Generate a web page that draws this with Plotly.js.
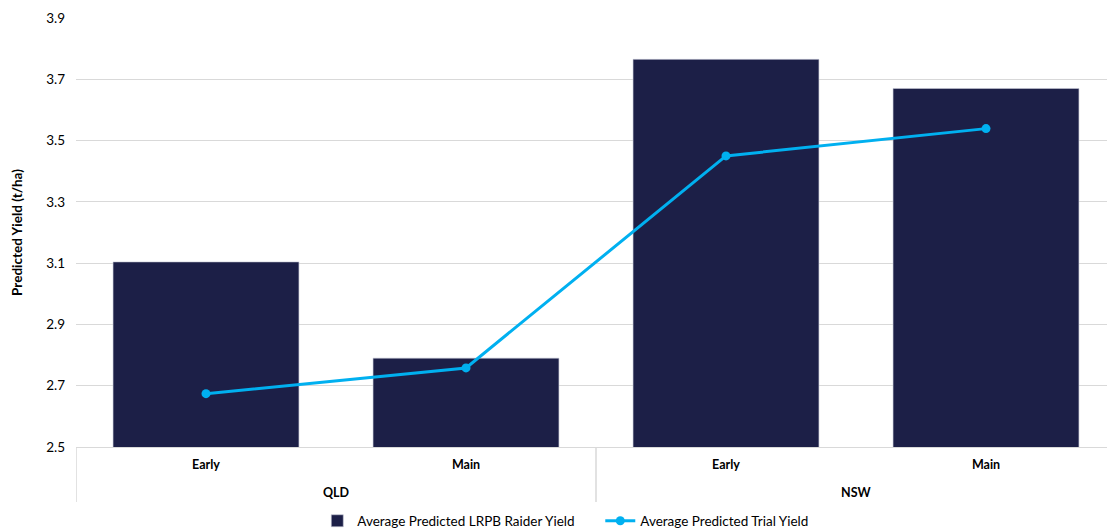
<!DOCTYPE html>
<html>
<head>
<meta charset="utf-8">
<script src="https://cdn.plot.ly/plotly-3.0.1.min.js"></script>
<style>
html, body { margin: 0; padding: 0; overflow: hidden; background: #fff; }
#chart { width: 1117px; height: 530px; }
</style>
</head>
<body>
<div id="chart"></div>
<script>
var regions = ["QLD", "QLD", "NSW", "NSW"];
var seasons = ["Early", "Main", "Early", "Main"];
var raiderYield = [3.104, 2.79, 3.765, 3.67];
var trialYield = [2.674, 2.758, 3.45, 3.539];
var yTicks = [2.5, 2.7, 2.9, 3.1, 3.3, 3.5, 3.7, 3.9];

var font = "Lato, 'Open Sans', sans-serif";
var idx = seasons.map(function (_, i) { return i; });

// group spans for the outer category level
var groups = [];
regions.forEach(function (r, i) {
  var g = groups[groups.length - 1];
  if (!g || g.name !== r) groups.push({ name: r, start: i, end: i });
  else g.end = i;
});

var traces = [
  {
    type: "bar",
    name: "Average Predicted LRPB Raider Yield",
    x: idx,
    y: raiderYield,
    width: 0.715,
    marker: { color: "#1c1f47", line: { color: "#c8cad6", width: 0.6 } },
    hoverinfo: "y"
  },
  {
    type: "scatter",
    mode: "lines+markers",
    name: "Average Predicted Trial Yield",
    x: idx,
    y: trialYield,
    line: { color: "#00b0f0", width: 3 },
    marker: { color: "#00b0f0", size: 9 },
    hoverinfo: "y"
  }
];

var shapes = [];
var annotations = [];
var bounds = [-0.5];
groups.forEach(function (g) { bounds.push(g.end + 0.5); });
bounds.forEach(function (b) {
  shapes.push({
    type: "line", xref: "x", yref: "paper",
    x0: b, x1: b, y0: 0, y1: -0.128,
    line: { color: "#d9d9d9", width: 1.5 }
  });
});
groups.forEach(function (g) {
  annotations.push({
    xref: "x", yref: "paper",
    x: (g.start + g.end) / 2, y: -0.105,
    yanchor: "middle", xanchor: "center",
    text: "<b>" + g.name + "</b>",
    showarrow: false,
    font: { family: font, size: 12.5, color: "#000" }
  });
});

var layout = {
  width: 1117,
  height: 530,
  margin: { l: 76, r: 1, t: 18, b: 83 },
  paper_bgcolor: "#ffffff",
  plot_bgcolor: "#ffffff",
  font: { family: font, color: "#000000", size: 13 },
  showlegend: true,
  legend: {
    orientation: "h",
    x: 0.232,
    xanchor: "left",
    yref: "container",
    y: 0.017,
    yanchor: "middle",
    entrywidth: 238,
    entrywidthmode: "pixels",
    font: { family: font, size: 13.5, color: "#000" }
  },
  xaxis: {
    type: "linear",
    range: [-0.5, 3.5],
    tickvals: idx,
    ticktext: seasons.map(function (s) { return "<b>" + s + "</b>"; }),
    showgrid: false,
    zeroline: false,
    showline: true,
    linecolor: "#d9d9d9",
    linewidth: 1,
    ticks: "",
    ticklabelstandoff: 6,
    tickfont: { family: font, size: 12.5, color: "#000" },
    automargin: false,
    fixedrange: true
  },
  yaxis: {
    range: [2.5, 3.9],
    tickvals: yTicks,
    ticktext: yTicks.map(function (v) { return v.toFixed(1); }),
    showgrid: true,
    gridcolor: "#d9d9d9",
    gridwidth: 1,
    zeroline: false,
    showline: false,
    ticks: "",
    ticklabelstandoff: 10,
    tickfont: { family: font, size: 13.5, color: "#000" },
    title: {
      text: "Predicted Yield (t/ha)",
      font: { family: font, size: 13.5, color: "#000", weight: "bold" },
      standoff: 20
    },
    automargin: false,
    fixedrange: true
  },
  shapes: shapes,
  annotations: annotations
};

Plotly.newPlot("chart", traces, layout, { displayModeBar: false, staticPlot: true });
</script>
</body>
</html>
